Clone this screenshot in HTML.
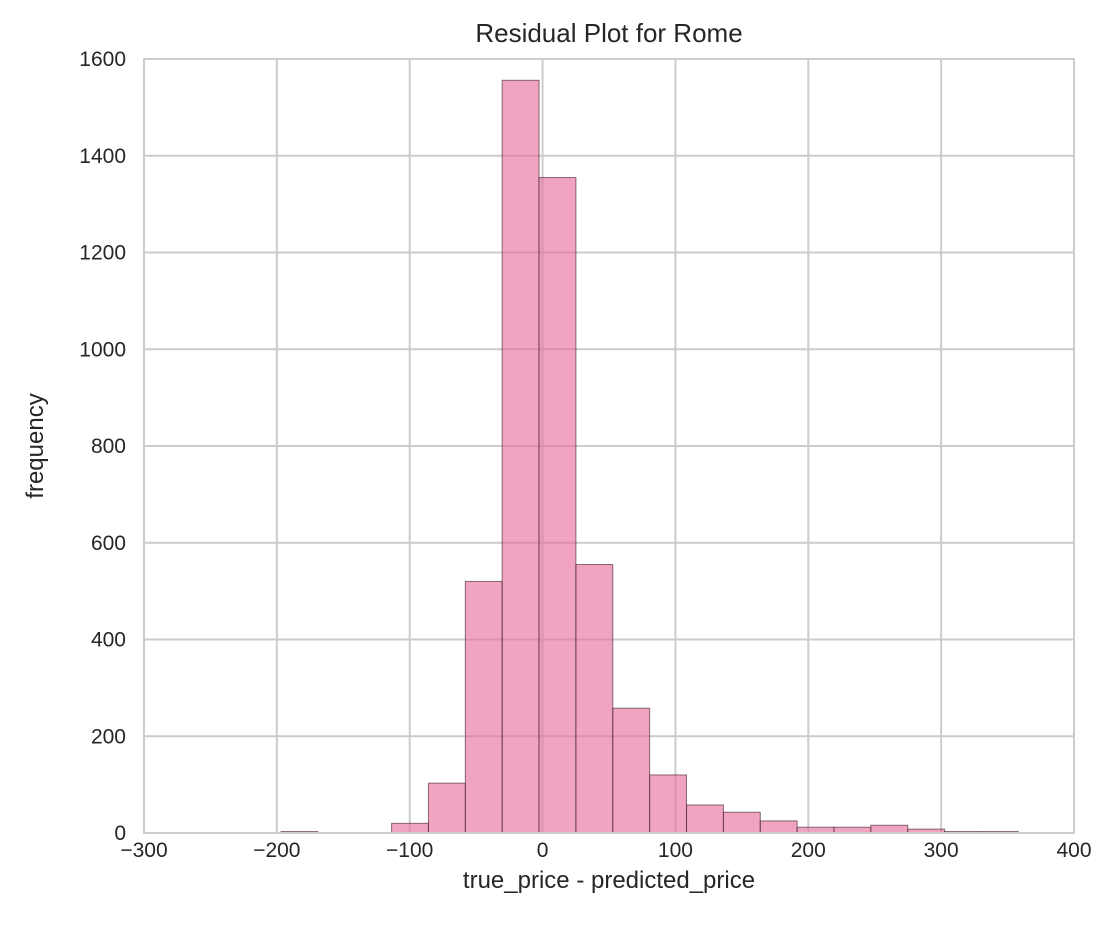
<!DOCTYPE html>
<html><head><meta charset="utf-8"><style>
body{margin:0;background:#fff;}
svg text{font-family:"Liberation Sans",Arial,sans-serif;fill:#262626;}
</style></head><body>
<svg id="chart" width="1116" height="941" xmlns="http://www.w3.org/2000/svg">
<g id="grid"></g>
<g id="bars"></g>
<rect x="144" y="59" width="930" height="774" fill="none" stroke="#cccccc" stroke-width="2"/>
<g id="xt"></g>
<g id="yt"></g>
<text x="609" y="42" text-anchor="middle" font-size="26">Residual Plot for Rome</text>
<text x="609" y="888" text-anchor="middle" font-size="24">true_price - predicted_price</text>
<text transform="translate(43,446) rotate(-90)" text-anchor="middle" font-size="24">frequency</text>
</svg>
<script>
const binStart = -196.9;
const binWidth = 27.75;
const counts = [3,0,0,20,103,520,1556,1355,555,258,120,58,43,25,12,12,16,8,3,3];
const xTicks = [-300,-200,-100,0,100,200,300,400];
const yTicks = [0,200,400,600,800,1000,1200,1400,1600];
const L=144,R=1074,T=59,B=833;
const xs=v=>L+(v+300)/700*(R-L);
const ys=v=>B-v/1600*(B-T);
const NS='http://www.w3.org/2000/svg';
const grid=document.getElementById('grid'),bars=document.getElementById('bars'),xt=document.getElementById('xt'),yt=document.getElementById('yt');
xTicks.forEach(t=>{
  const l=document.createElementNS(NS,'line');
  
  
  l.setAttribute('x1',xs(t));l.setAttribute('x2',xs(t));l.setAttribute('y1',T);l.setAttribute('y2',B);
  l.setAttribute('stroke','#cccccc');l.setAttribute('stroke-width','2');grid.appendChild(l);
  const tx=document.createElementNS(NS,'text');
  
  
  tx.setAttribute('x',xs(t));tx.setAttribute('y',B+24);tx.setAttribute('text-anchor','middle');tx.setAttribute('font-size','21');
  tx.textContent=t<0?'\u2212'+(-t):t;xt.appendChild(tx);
});
yTicks.forEach(t=>{
  const l=document.createElementNS(NS,'line');
  
  
  l.setAttribute('x1',L);l.setAttribute('x2',R);l.setAttribute('y1',ys(t));l.setAttribute('y2',ys(t));
  l.setAttribute('stroke','#cccccc');l.setAttribute('stroke-width','2');grid.appendChild(l);
  const tx=document.createElementNS(NS,'text');
  
  
  tx.setAttribute('x',L-18);tx.setAttribute('y',ys(t)+7);tx.setAttribute('text-anchor','end');tx.setAttribute('font-size','21');
  tx.textContent=t;yt.appendChild(tx);
});
counts.forEach((c,i)=>{
  if(c<=0)return;
  const x0=xs(binStart+i*binWidth),x1=xs(binStart+(i+1)*binWidth);
  const r=document.createElementNS(NS,'rect');
  
  
  r.setAttribute('x',x0);r.setAttribute('width',x1-x0);r.setAttribute('y',ys(c));r.setAttribute('height',B-ys(c));
  r.setAttribute('fill','rgba(232,107,157,0.62)');r.setAttribute('stroke','rgba(60,30,40,0.6)');r.setAttribute('stroke-width','1');
  bars.appendChild(r);
});
</script>
</body></html>
